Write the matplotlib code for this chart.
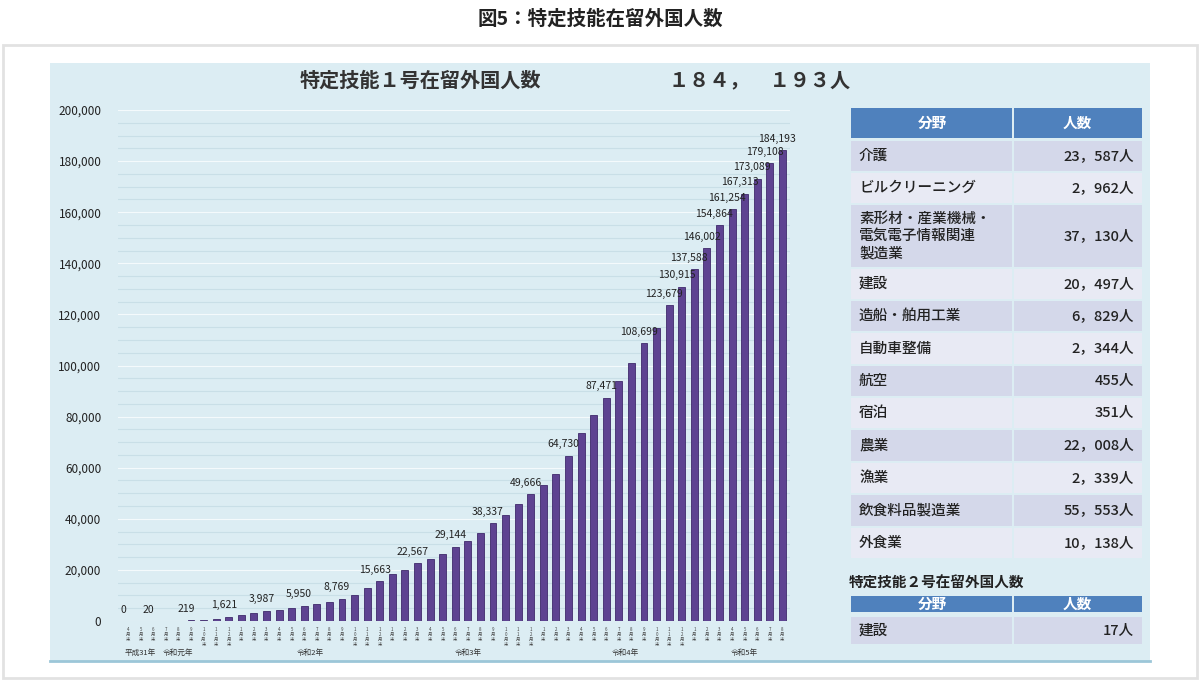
import numpy as np
import matplotlib.pyplot as plt
from matplotlib.patches import Rectangle

plt.rcParams["font.family"] = ["Noto Sans CJK JP", "DejaVu Sans"]

# monthly totals, 平成31年4月末 .. 令和5年8月末
months = [4, 5, 6, 7, 8, 9, 10, 11, 12, 1, 2, 3,
          4, 5, 6, 7, 8, 9, 10, 11, 12, 1, 2, 3,
          4, 5, 6, 7, 8, 9, 10, 11, 12, 1, 2, 3,
          4, 5, 6, 7, 8, 9, 10, 11, 12, 1, 2, 3,
          4, 5, 6, 7, 8]
counts = [0, 10, 20, 60, 130, 219, 500, 900, 1621, 2300, 3000, 3987,
          4500, 5200, 5950, 6800, 7600, 8769, 10300, 12800, 15663, 18200, 20100, 22567,
          24200, 26300, 29144, 31400, 34600, 38337, 41500, 45600, 49666, 53400, 57400, 64730,
          73700, 80600, 87471, 93900, 101000, 108699, 114800, 123679, 130915, 137588, 146002, 154864,
          161254, 167313, 173089, 179108, 184193]
labeled = [0, 2, 5, 8, 11, 14, 17, 20, 23, 26, 29, 32, 35, 38, 41,
           43, 44, 45, 46, 47, 48, 49, 50, 51, 52]
year_labels = [("平成31年", 1), ("令和元年", 4), ("令和2年", 14.5), ("令和3年", 27), ("令和4年", 39.5), ("令和5年", 49)]

fields = ["介護", "ビルクリーニング", "素形材・産業機械・\n電気電子情報関連\n製造業", "建設", "造船・舶用工業",
          "自動車整備", "航空", "宿泊", "農業", "漁業", "飲食料品製造業", "外食業"]
field_counts = ["23，587人", "2，962人", "37，130人", "20，497人", "6，829人", "2，344人",
                "455人", "351人", "22，008人", "2，339人", "55，553人", "10，138人"]
row_tops = [141, 173, 205, 269, 301, 333, 366, 398, 430, 463, 495, 528]
row_bots = [171, 203, 267, 299, 331, 364, 396, 428, 461, 493, 526, 558]

W, H = 1200, 681
fig = plt.figure(figsize=(W / 100, H / 100), dpi=100)
bg = fig.add_axes([0, 0, 1, 1])
bg.set_xlim(0, W)
bg.set_ylim(H, 0)
bg.axis("off")

bg.text(600, 19, "図5：特定技能在留外国人数", ha="center", va="center", fontsize=14, weight="bold", color="#222")
bg.add_patch(Rectangle((3, 45), 1194, 633, facecolor="white", edgecolor="#e2e2e2", lw=2))
bg.add_patch(Rectangle((50, 63), 1100, 598, facecolor="#dcedf3", edgecolor="none"))
bg.plot([50, 1150], [661, 661], color="#9cc6d8", lw=2)
bg.text(420, 80, "特定技能１号在留外国人数", ha="center", va="center", fontsize=14.5, weight="bold", color="#333")
bg.text(760, 80, "１８４，　１９３人", ha="center", va="center", fontsize=14.5, weight="bold", color="#333")

# table
cl, cm, cr = 851, 1013, 1142
def header(y0, y1):
    bg.add_patch(Rectangle((cl, y0), cm - cl - 1, y1 - y0, facecolor="#4f81bd", edgecolor="none"))
    bg.add_patch(Rectangle((cm + 1, y0), cr - cm - 1, y1 - y0, facecolor="#4f81bd", edgecolor="none"))
    bg.text((cl + cm) / 2, (y0 + y1) / 2, "分野", ha="center", va="center", color="white", fontsize=10.5, weight="bold")
    bg.text((cm + cr) / 2, (y0 + y1) / 2, "人数", ha="center", va="center", color="white", fontsize=10.5, weight="bold")

def row(y0, y1, name, val, color):
    bg.add_patch(Rectangle((cl, y0), cm - cl - 1, y1 - y0, facecolor=color, edgecolor="none"))
    bg.add_patch(Rectangle((cm + 1, y0), cr - cm - 1, y1 - y0, facecolor=color, edgecolor="none"))
    bg.text(cl + 8, (y0 + y1) / 2, name, ha="left", va="center", fontsize=10.5, color="#222",
            linespacing=1.3, weight="medium")
    bg.text(cr - 8, (y0 + y1) / 2, val, ha="right", va="center", fontsize=10.5, color="#222", weight="medium")

header(108, 138)
for i, (name, val) in enumerate(zip(fields, field_counts)):
    row(row_tops[i], row_bots[i], name, val, "#d4d8ea" if i % 2 == 0 else "#e8eaf4")
bg.text(cl - 2, 583, "特定技能２号在留外国人数", ha="left", va="center", fontsize=10.5, weight="bold", color="#222")
header(596, 612)
row(617, 644, "建設", "17人", "#d4d8ea")

# bar chart
ax = fig.add_axes([118 / W, 1 - 621 / H, 672 / W, 511 / H])
ax.patch.set_alpha(0)
x = np.arange(len(counts))
ax.bar(x, counts, width=0.55, color="#5e4391", edgecolor="#3f2a6b", lw=0.6, zorder=3)
ax.set_xlim(-0.8, len(counts) - 0.4)
ax.set_ylim(0, 200000)
ax.set_yticks(np.arange(0, 200001, 20000))
ax.set_yticklabels([f"{v:,}" for v in range(0, 200001, 20000)], fontsize=8.5, color="#222")
for v in range(0, 200001, 5000):
    ax.axhline(v, color="#c9dfe7" if v % 20000 else "#f4fafc", lw=0.8, zorder=1)
for s in ax.spines.values():
    s.set_visible(False)
ax.tick_params(length=0, pad=12)
ax.set_xticks(x)
ax.set_xticklabels(["\n".join(f"{m}月末") for m in months], fontsize=3.2, color="#444", linespacing=1.0)
ax.tick_params(axis="x", pad=4)
for i in labeled:
    ax.text(i - 0.4, counts[i] + 2500, f"{counts[i]:,}", ha="center", va="bottom", fontsize=7.5, color="#222", zorder=4)
for lab, pos in year_labels:
    ax.text(pos, -12500, lab, ha="center", va="center", fontsize=5.5, color="#333", clip_on=False)

fig.savefig("out.png", dpi=100)
